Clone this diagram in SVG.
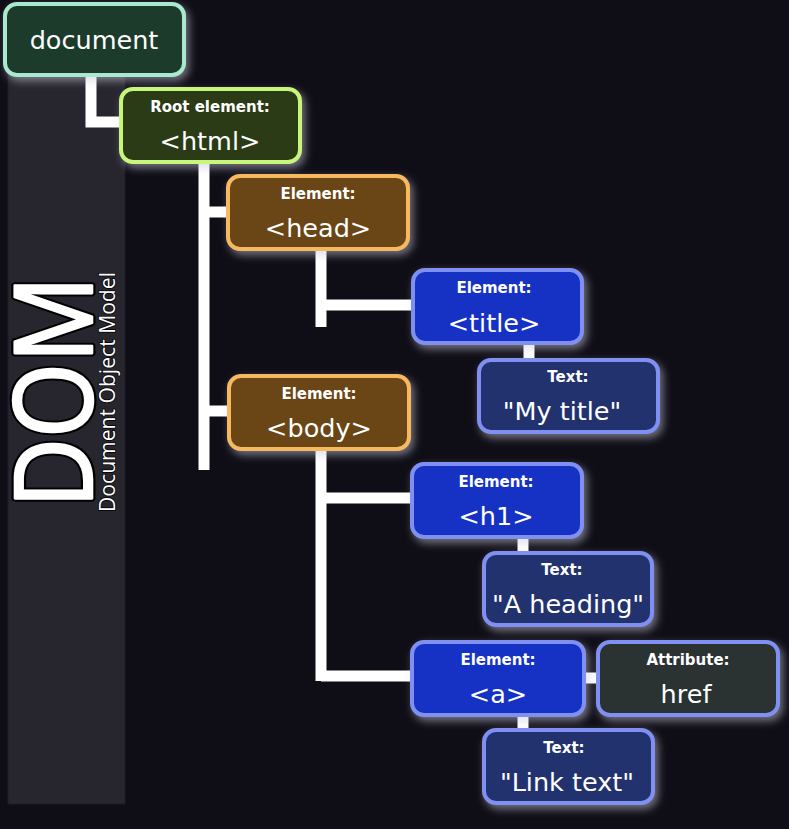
<svg xmlns="http://www.w3.org/2000/svg" width="789" height="829" viewBox="0 0 789 829">
<defs>
<filter id="glow" x="-20%" y="-20%" width="150%" height="160%">
<feGaussianBlur in="SourceAlpha" stdDeviation="4" result="b"/>
<feOffset dx="3" dy="4" in="b" result="o"/>
<feFlood flood-color="#c8c8d8" flood-opacity="0.55"/>
<feComposite in2="o" operator="in" result="s"/>
<feMerge><feMergeNode in="s"/><feMergeNode in="SourceGraphic"/></feMerge>
</filter>
</defs>
<style>
.box{stroke-width:4;filter:url(#glow)}
.doc{fill:#1d3a2c;stroke:#a9e9cd}
.root{fill:#2c3a18;stroke:#c8f57c}
.el1{fill:#6a4518;stroke:#f7b95e}
.el2{fill:#1233c4;stroke:#7f90f2}
.txt{fill:#24306e;stroke:#7f90f2}
.attr{fill:#2b3133;stroke:#7f90f2}
.lbl{font-family:"DejaVu Sans",sans-serif;font-size:15px;font-weight:bold;fill:#ffffff;text-anchor:middle}
.main{font-family:"DejaVu Sans",sans-serif;font-size:25.5px;fill:#ffffff;text-anchor:middle}
.con{fill:none;stroke:#ffffff;stroke-width:11;stroke-linecap:butt;stroke-linejoin:miter}
.dom{font-family:'Open Sans','DejaVu Sans',sans-serif;font-size:108px}
</style>
<rect width="789" height="829" fill="#0f0e17"/>
<rect x="8" y="40" width="117" height="764" fill="#27262f" stroke="#1e1d26" stroke-width="1"/>
<g id="title-dom">
<text class="dom" x="0" y="0" transform="translate(92,508) rotate(-90)" fill="#000000" stroke="#000000" stroke-width="7" stroke-linejoin="round" textLength="232" lengthAdjust="spacingAndGlyphs">DOM</text>
<text class="dom" x="0" y="0" transform="translate(92,508) rotate(-90)" fill="#ffffff" stroke="#ffffff" stroke-width="2.5" stroke-linejoin="round" textLength="232" lengthAdjust="spacingAndGlyphs">DOM</text>
<text x="0" y="0" transform="translate(115,512) rotate(-90)" font-family="'Open Sans','DejaVu Sans',sans-serif" font-size="21" fill="#ffffff" stroke="#000000" stroke-width="1.5" paint-order="stroke" textLength="240" lengthAdjust="spacingAndGlyphs">Document Object Model</text>
</g>
<g id="connectors">
<path class="con" d="M91,75 V122 H122"/>
<path class="con" d="M204,162 V470"/>
<path class="con" d="M204,212 H228"/>
<path class="con" d="M204,411 H228"/>
<path class="con" d="M321,248 V327"/>
<path class="con" d="M321,305 H413"/>
<path class="con" d="M529,343 V360"/>
<path class="con" d="M321,450 V681"/>
<path class="con" d="M321,498 H412"/>
<path class="con" d="M321,676 H412"/>
<path class="con" d="M523,537 V553"/>
<path class="con" d="M585,678 H597"/>
<path class="con" d="M523,715 V730"/>
</g>
<g id="document">
<rect class="box doc" x="5" y="4" width="179" height="71" rx="12"/>
<text class="main" x="94" y="49">document</text>
</g>
<g id="html">
<rect class="box root" x="121" y="89" width="179" height="73" rx="12"/>
<text class="lbl" x="210" y="112">Root element:</text>
<text class="main" x="210" y="150">&lt;html&gt;</text>
</g>
<g id="head">
<rect class="box el1" x="228" y="176" width="180" height="73" rx="12"/>
<text class="lbl" x="318" y="199">Element:</text>
<text class="main" x="318" y="237">&lt;head&gt;</text>
</g>
<g id="body">
<rect class="box el1" x="229" y="376" width="180" height="73" rx="12"/>
<text class="lbl" x="319" y="399">Element:</text>
<text class="main" x="319" y="437">&lt;body&gt;</text>
</g>
<g id="title">
<rect class="box el2" x="413" y="270" width="169" height="73" rx="12"/>
<text class="lbl" x="494" y="293">Element:</text>
<text class="main" x="494" y="332">&lt;title&gt;</text>
</g>
<g id="text-mytitle">
<rect class="box txt" x="479" y="360" width="179" height="72" rx="12"/>
<text class="lbl" x="568" y="382">Text:</text>
<text class="main" x="562" y="420">"My title"</text>
</g>
<g id="h1">
<rect class="box el2" x="412" y="464" width="170" height="73" rx="12"/>
<text class="lbl" x="496" y="487">Element:</text>
<text class="main" x="496" y="525">&lt;h1&gt;</text>
</g>
<g id="text-heading">
<rect class="box txt" x="484" y="553" width="168" height="72" rx="12"/>
<text class="lbl" x="562" y="575">Text:</text>
<text class="main" x="568" y="613">"A heading"</text>
</g>
<g id="a">
<rect class="box el2" x="412" y="642" width="172" height="73" rx="12"/>
<text class="lbl" x="498" y="665">Element:</text>
<text class="main" x="498" y="703">&lt;a&gt;</text>
</g>
<g id="attr-href">
<rect class="box attr" x="598" y="642" width="180" height="73" rx="12"/>
<text class="lbl" x="688" y="665">Attribute:</text>
<text class="main" x="686" y="703">href</text>
</g>
<g id="text-link">
<rect class="box txt" x="484" y="730" width="169" height="73" rx="12"/>
<text class="lbl" x="564" y="753">Text:</text>
<text class="main" x="567" y="791">"Link text"</text>
</g>
</svg>
